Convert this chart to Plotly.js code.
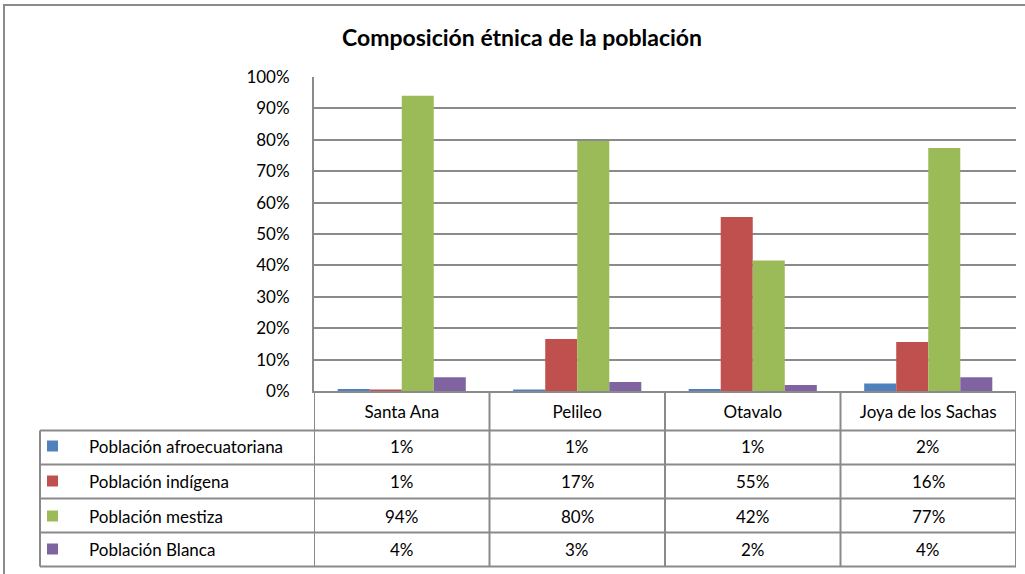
<!DOCTYPE html>
<html>
<head>
<meta charset="utf-8">
<script src="https://cdn.plot.ly/plotly-3.0.1.min.js"></script>
<style>html,body{margin:0;padding:0;background:#fff;} #chart{width:1025px;height:574px;}</style>
</head>
<body>
<div id="chart"></div>
<script>
// ---- data ----
const categories = ['Santa Ana', 'Pelileo', 'Otavalo', 'Joya de los Sachas'];
const seriesNames = ['Población afroecuatoriana', 'Población indígena', 'Población mestiza', 'Población Blanca'];
const afroecuatoriana = [0.6, 0.5, 0.6, 2.4];
const indigena = [0.5, 16.6, 55.4, 15.6];
const mestiza = [94.0, 79.6, 41.6, 77.4];
const blanca = [4.4, 2.9, 1.9, 4.4];
const seriesColors = ['#4F81BD', '#C0504D', '#9BBB59', '#8064A2'];
const yTickVals = [0, 10, 20, 30, 40, 50, 60, 70, 80, 90, 100];
const yTickText = ['0%', '10%', '20%', '30%', '40%', '50%', '60%', '70%', '80%', '90%', '100%'];

const allSeries = [afroecuatoriana, indigena, mestiza, blanca];

// ---- layout geometry (pixels) ----
const W = 1025, H = 574;
const plotL = 314, plotR = 1016, plotT = 77, plotB = 391;
const plotW = plotR - plotL, plotH = plotB - plotT;
const px = p => (p - plotL) / plotW;       // pixel x -> paper x
const py = p => (plotB - p) / plotH;       // pixel y -> paper y
const lineCol = '#8a8a8a';
const font = 'Lato, "Liberation Sans", sans-serif';
const fs = 17;

const traces = allSeries.map((vals, i) => ({
  type: 'bar',
  name: seriesNames[i],
  x: categories,
  y: vals,
  marker: {color: seriesColors[i], line: {width: 0}},
  hoverinfo: 'skip',
  showlegend: false
}));

const rowBounds = [430.5, 464.5, 498.5, 532.5, 566.5];
const rowCenters = [446, 481, 516, 549];

const shapes = [];
// outer chart border
shapes.push({type: 'rect', xref: 'paper', yref: 'paper', x0: px(4), x1: px(1040), y0: py(5), y1: py(590),
  line: {color: lineCol, width: 2}, fillcolor: 'rgba(0,0,0,0)', layer: 'below'});
// table horizontal lines
rowBounds.forEach(b => {
  shapes.push({type: 'line', xref: 'paper', yref: 'paper', x0: px(40), x1: px(plotR), y0: py(b), y1: py(b),
    line: {color: lineCol, width: 2}});
});
// table vertical lines at category boundaries
for (let k = 0; k <= categories.length; k++) {
  shapes.push({type: 'line', xref: 'x', yref: 'paper', x0: k - 0.5, x1: k - 0.5, y0: 0, y1: py(rowBounds[4]),
    line: {color: lineCol, width: 2}});
}
// left border of legend column
shapes.push({type: 'line', xref: 'paper', yref: 'paper', x0: px(40), x1: px(40), y0: py(rowBounds[0]), y1: py(rowBounds[4]),
  line: {color: lineCol, width: 2}});
// legend keys
seriesColors.forEach((c, i) => {
  shapes.push({type: 'rect', xref: 'paper', yref: 'paper', x0: px(47), x1: px(58),
    y0: py(rowCenters[i] - 5.5), y1: py(rowCenters[i] + 5.5), line: {width: 0}, fillcolor: c});
});

const annotations = [];
seriesNames.forEach((n, i) => {
  annotations.push({xref: 'paper', yref: 'paper', x: px(87), y: py(rowCenters[i]), xanchor: 'left', yanchor: 'middle',
    text: n, showarrow: false, font: {family: font, size: fs, color: '#000'}});
  allSeries[i].forEach((v, j) => {
    annotations.push({xref: 'x', yref: 'paper', x: categories[j], y: py(rowCenters[i]), xanchor: 'center', yanchor: 'middle',
      text: Math.round(v) + '%', showarrow: false, font: {family: font, size: fs, color: '#000'}});
  });
});

const layout = {
  width: W, height: H,
  margin: {l: plotL, r: W - plotR, t: plotT, b: H - plotB, pad: 0},
  paper_bgcolor: '#fff', plot_bgcolor: '#fff',
  title: {text: '<b>Composición étnica de la población</b>', font: {family: font, size: 23, color: '#000'},
    xref: 'container', yref: 'container', x: 522 / W, y: 1 - 38 / H, xanchor: 'center', yanchor: 'middle'},
  barmode: 'group', bargap: 0.27, bargroupgap: 0,
  xaxis: {type: 'category', range: [-0.5, 3.5], showgrid: false, zeroline: false,
    showline: true, linecolor: lineCol, linewidth: 2, ticks: '', ticklabelstandoff: 5,
    tickfont: {family: font, size: fs, color: '#000'}, fixedrange: true},
  yaxis: {range: [0, 100], tickvals: yTickVals, ticktext: yTickText, showgrid: true, gridcolor: lineCol, gridwidth: 2,
    zeroline: false, showline: true, linecolor: lineCol, linewidth: 2, ticks: '', ticklabelstandoff: 19,
    tickfont: {family: font, size: fs, color: '#000'}, fixedrange: true},
  shapes: shapes,
  annotations: annotations,
  showlegend: false
};

Plotly.newPlot('chart', traces, layout, {displayModeBar: false, staticPlot: true});
</script>
</body>
</html>
